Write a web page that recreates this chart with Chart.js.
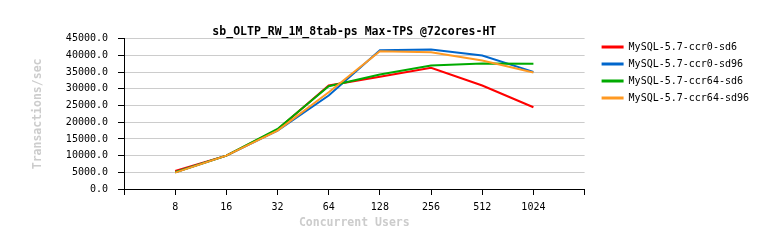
<!DOCTYPE html>
<html>
<head>
<meta charset="utf-8">
<script src="https://cdn.jsdelivr.net/npm/chart.js@4.4.1/dist/chart.umd.min.js"></script>
<style>
  html, body { margin: 0; padding: 0; background: #fff; }
  #wrap { width: 770px; height: 248px; }
</style>
</head>
<body>
<div id="wrap"><canvas id="tps"></canvas></div>
<script>
// concurrent users (empty slots at both ends, like the original axis)
const users = ['', '8', '16', '32', '64', '128', '256', '512', '1024', ''];

const ccr0sd6   = [null, 5400, 10000, 17800, 31000, 33600, 36300, 31000, 24500, null];
const ccr0sd96  = [null, 5000, 10000, 17500, 28000, 41600, 41800, 40000, 35100, null];
const ccr64sd6  = [null, 5000, 10000, 18000, 30800, 34300, 37000, 37600, 37500, null];
const ccr64sd96 = [null, 4900, 10000, 17500, 29000, 41300, 41000, 38500, 34900, null];

const yTicks = [0, 5000, 10000, 15000, 20000, 25000, 30000, 35000, 40000, 45000];

const mono = 'DejaVu Sans Mono';

// order: the last series is painted on top, as in the original
const line = (label, data, color, order) => ({
    label: label,
    data: data,
    borderColor: color,
    backgroundColor: color,
    borderWidth: 2,
    pointRadius: 0,
    tension: 0,
    order: order
});

// push the legend a bit away from the plot and down to the top of the grid
const legendShift = {
    id: 'legendShift',
    afterLayout(chart) {
        chart.legend.left += 10;
        chart.legend.top = 35;
    }
};

new Chart(document.getElementById('tps'), {
    type: 'line',
    data: {
        labels: users,
        datasets: [
            line('MySQL-5.7-ccr0-sd6', ccr0sd6, '#ff0000', 4),
            line('MySQL-5.7-ccr0-sd96', ccr0sd96, '#0066cc', 3),
            line('MySQL-5.7-ccr64-sd6', ccr64sd6, '#00aa00', 2),
            line('MySQL-5.7-ccr64-sd96', ccr64sd96, '#ff9922', 1)
        ]
    },
    plugins: [legendShift],
    options: {
        responsive: true,
        maintainAspectRatio: false,
        animation: false,
        layout: { padding: { left: 0, right: 21, top: 0, bottom: 0 } },
        plugins: {
            title: {
                display: true,
                fullSize: false,
                text: 'sb_OLTP_RW_1M_8tab-ps Max-TPS @72cores-HT',
                color: '#000',
                font: { family: mono, size: 11.5, weight: 'bold' },
                padding: { top: 25, bottom: 0 }
            },
            legend: {
                position: 'right',
                align: 'start',
                labels: {
                    boxWidth: 22,
                    boxHeight: 3,
                    padding: 7,
                    color: '#000',
                    font: { family: mono, size: 10 },
                    generateLabels: (chart) => chart.data.datasets.map((ds, i) => ({
                        text: ds.label,
                        fillStyle: ds.borderColor,
                        strokeStyle: ds.borderColor,
                        lineWidth: 0,
                        datasetIndex: i
                    }))
                }
            },
            tooltip: { enabled: false }
        },
        scales: {
            x: {
                offset: false,
                afterFit: (scale) => { scale.height = 59; },
                border: { color: '#000', width: 1 },
                grid: { drawOnChartArea: false, tickLength: 6, tickColor: '#000' },
                ticks: {
                    autoSkip: false,
                    maxRotation: 0,
                    padding: 6,
                    color: '#000',
                    font: { family: mono, size: 10 }
                },
                title: {
                    display: true,
                    text: 'Concurrent Users',
                    color: '#cccccc',
                    font: { family: mono, size: 11.5, weight: 'bold' },
                    padding: { top: 0, bottom: 18 }
                }
            },
            y: {
                min: 0,
                max: 45000,
                afterFit: (scale) => { scale.width = 124; },
                afterBuildTicks: (scale) => { scale.ticks = yTicks.map(v => ({ value: v })); },
                border: { color: '#000', width: 1 },
                grid: { color: '#cccccc', tickLength: 6, tickColor: '#000' },
                ticks: {
                    padding: 10,
                    color: '#000',
                    font: { family: mono, size: 10 },
                    callback: (v) => Number(v).toFixed(1)
                },
                title: {
                    display: true,
                    text: 'Transactions/sec',
                    color: '#cccccc',
                    font: { family: mono, size: 11.5, weight: 'bold' },
                    padding: { top: 31, bottom: 0 }
                }
            }
        }
    }
});
</script>
</body>
</html>
